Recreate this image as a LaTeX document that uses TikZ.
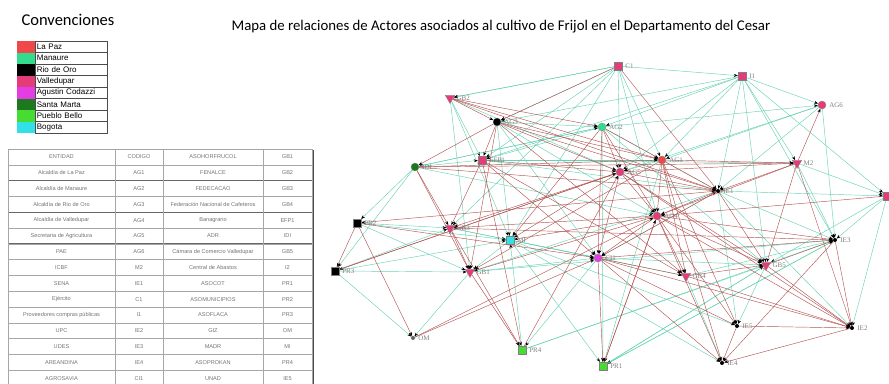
\documentclass[tikz,border=0pt]{standalone}
\usepackage{fontspec}
\setmainfont{Carlito}
\newfontfamily\legfont{Liberation Sans}
\newfontfamily\netfont{Liberation Serif}
\usepackage{xcolor}
\usetikzlibrary{positioning,shapes.geometric,arrows.meta}

\definecolor{lapaz}{RGB}{240,72,72}
\definecolor{manaure}{RGB}{50,220,140}
\definecolor{valledupar}{RGB}{228,60,120}
\definecolor{codazzi}{RGB}{230,60,230}
\definecolor{santamarta}{RGB}{30,120,30}
\definecolor{pueblobello}{RGB}{70,220,50}
\definecolor{bogota}{RGB}{50,225,230}
\definecolor{linkg}{RGB}{105,210,180}
\definecolor{linkr}{RGB}{180,85,85}

\pgfdeclarelayer{bg}
\pgfsetlayers{bg,main}

\begin{document}
\begin{tikzpicture}[x=1pt, y=-1pt, node distance = 0pt]
            \tikzstyle{swatch} = [rectangle, minimum width=18pt, minimum height=11.5pt, inner sep=0pt]
            \tikzstyle{legrow} = [rectangle, draw=black!70, minimum width=72pt, minimum height=11.5pt, inner sep=1.5pt, text width=69pt, align=left, font=\legfont\fontsize{8}{9}\selectfont]
            \tikzstyle{cell} = [inner sep=0pt, text=black!55, font=\legfont\fontsize{5.6}{6}\selectfont]
            \tikzstyle{tabline} = [black!35, line width=0.4pt]
            \tikzstyle{actor} = [circle, draw=black!50, line width=0.3pt, inner sep=0pt, minimum size=8pt]
            \tikzstyle{sq} = [rectangle, draw=black!50, line width=0.3pt, inner sep=0pt, minimum size=8pt]
            \tikzstyle{tri} = [regular polygon, regular polygon sides=3, shape border rotate=180, draw=black!50, line width=0.3pt, inner sep=0pt, minimum size=11pt]
            \tikzstyle{ie} = [circle, inner sep=0pt, minimum size=4pt]
            \tikzstyle{lbl} = [inner sep=3pt, text=black!50, font=\netfont\fontsize{7}{8}\selectfont]
            \tikzstyle{verde} = [linkg, line width=0.45pt, -{Stealth[length=4pt, width=3pt, color=black]}]
            \tikzstyle{rojo} = [linkr, line width=0.45pt, -{Stealth[length=4pt, width=3pt, color=black]}]

            \useasboundingbox (0,0) rectangle (889,383);

            % titulos
            \node (conv) at (68,20) {\fontsize{16.5}{18}\selectfont Convenciones};
            \node (titulo) at (501,27) {\fontsize{14.8}{17}\selectfont Mapa de relaciones de Actores asociados al cultivo de Frijol en el Departamento del Cesar};

            % convenciones
            \foreach \c/\t [count=\i] in {lapaz/La Paz, manaure/Manaure, black/Rio de Oro, valledupar/Valledupar, codazzi/Agustin Codazzi, santamarta/Santa Marta, pueblobello/Pueblo Bello, bogota/Bogota}
            {
                \node [swatch, fill=\c] (sw\i) at (26, 35.25+11.5*\i) {};
                \node [legrow, right = of sw\i] (lg\i) {\t};
            }

            % tabla de codigos
            \foreach \k in {0,...,15}
                \draw [tabline] (8, 149+15.8*\k) -- (312, 149+15.8*\k);
            \foreach \k in {2,4,6}
                \draw [black!60, line width=0.9pt] (8, 149+15.8*\k) -- (312, 149+15.8*\k);
            \foreach \xx in {8,115,163,263,312}
                \draw [tabline] (\xx,149) -- (\xx,390);
            \draw [black!70, line width=1.2pt] (313.5,150) -- (313.5,390);

            \foreach \ca/\cb/\cc/\cd [count=\r] in {ENTIDAD/CODIGO/ASOHORFRUCOL/GB1,
                Alcaldía de La Paz/AG1/FENALCE/GB2,
                Alcaldía de Manaure/AG2/FEDECACAO/GB3,
                Alcaldía de Rio de Oro/AG3/Federación Nacional de Cafeteros/GB4,
                Alcaldía de Valledupar/AG4/Banagrario/EFP1,
                Secretaria de Agricultura/AG5/ADR/IDI,
                PAE/AG6/Cámara de Comercio Valledupar/GB5,
                ICBF/M2/Central de Abastos/I2,
                SENA/IE1/ASOCOT/PR1,
                Ejército/C1/ASOMUNICIPIOS/PR2,
                Proveedores compras públicas/I1/ASOFLACA/PR3,
                UPC/IE2/GIZ/OM,
                UDES/IE3/MADR/MI,
                AREANDINA/IE4/ASOPROKAN/PR4,
                AGROSAVIA/CI1/UNAD/IE5}
            {
                \node [cell] (ta\r) at (61.5, 141.1+15.8*\r) {\ca};
                \node [cell] (tb\r) at (139, 141.1+15.8*\r) {\cb};
                \node [cell] (tc\r) at (213, 141.1+15.8*\r) {\cc};
                \node [cell] (td\r) at (287.5, 141.1+15.8*\r) {\cd};
            }

            % actores
            \foreach \n/\x/\y/\s/\c in {C1/618/66/sq/valledupar, I1/742/76/sq/valledupar,
                AG6/822/105/actor/valledupar, GB2/450/98/tri/valledupar, AG3/497/122/actor/black,
                AG2/602/127/actor/manaure, EFP1/482/160/sq/valledupar, IDI/415/167/actor/santamarta,
                AG1/662/160/actor/lapaz, AG5/620/172/actor/valledupar, M2/797/163/tri/valledupar,
                IE1/718/191/ie/black, AG4/657/216/actor/valledupar, PR2/357/223/sq/black,
                GB3/450/228/tri/valledupar, MI/510/240/sq/bogota, IE3/835/240/ie/black,
                CI1/598/258/actor/codazzi, GB5/766/265/tri/valledupar, GB4/686/276/tri/valledupar,
                GB1/470/272/tri/valledupar, PR3/335/271/sq/black, OM/413/338/ie/black!60,
                PR4/522/350/sq/pueblobello, PR1/603/366/sq/pueblobello, IE5/737/326/ie/black,
                IE2/852/328/ie/black, IE4/722/363/ie/black}
                \node [\s, fill=\c, label={[lbl]right:\n}] (\n) at (\x,\y) {};
            \node [sq, fill=valledupar] (RT) at (887,196) {};

            % relaciones
            \begin{pgfonlayer}{bg}
            \foreach \a/\b in {C1/I1, I1/AG2, I1/AG1, I1/AG5, I1/IE1, I1/M2, I1/RT, I1/GB5, I1/EFP1, I1/AG3, I1/IE3,
                I1/AG6, AG2/AG6, AG6/AG5, AG6/AG1, AG6/IE3, AG6/IE1, C1/AG3, C1/GB2, C1/EFP1, C1/AG5, C1/AG4, C1/AG1,
                C1/MI, C1/GB3, GB2/EFP1, GB2/GB1, GB2/MI, GB2/AG5, AG3/AG2, AG3/AG4, AG3/MI, AG3/CI1,
                AG2/EFP1, AG2/IDI, AG2/IE1, AG2/GB5, AG2/PR1, IDI/PR2, IDI/PR3, IDI/EFP1, IDI/AG4,
                EFP1/AG1, EFP1/M2, EFP1/IE1, AG1/AG5, AG1/PR1, M2/IE3, M2/RT, IE1/RT, IE1/IE3, IE1/IE2,
                IE1/IE5, RT/IE3, RT/IE2, RT/GB5, PR2/GB1, PR2/MI, PR2/GB3, GB3/MI, GB3/CI1, MI/CI1,
                MI/GB1, MI/PR1, MI/IE5, MI/GB4, MI/IE4, PR3/OM, PR3/GB1, PR3/GB3, PR3/MI, GB1/OM,
                GB1/CI1, GB1/IE1, GB1/IE3, CI1/GB5, CI1/PR4, GB4/IE3, GB4/IE4, GB5/IE5, GB5/PR1,
                IE3/PR1, PR4/IE3, PR4/GB5, PR1/IE3, PR1/GB5, IDI/AG2, PR4/MI, CI1/IE1, C1/GB2}
                \draw [verde] (\a) -- (\b);
            \foreach \a/\b in {M2/AG6, C1/IE1, GB2/AG3, GB2/AG2, GB2/AG1, GB2/IE1, AG3/EFP1, AG3/IDI,
                AG3/AG1, AG3/GB1, AG3/AG5, AG3/IE1, AG3/GB4, AG2/AG5, AG2/AG1, AG2/MI, AG2/AG4, AG2/CI1,
                IDI/AG1, IDI/M2, IDI/GB3, IDI/GB1, EFP1/GB3, EFP1/PR4, EFP1/AG5, EFP1/CI1, EFP1/GB4,
                AG1/M2, AG1/IE1, AG1/AG4, AG1/GB4, AG1/IE5, AG1/IE4, AG1/GB1, AG5/M2, AG5/IE1, AG5/AG4,
                AG5/CI1, AG5/MI, AG5/GB3, AG5/PR3, AG5/IE2, AG5/GB5, M2/IE1, M2/GB5, M2/AG4, M2/IE2,
                IE1/AG4, IE1/GB5, IE1/CI1, IE1/PR2, RT/AG4, AG4/GB4, AG4/CI1, AG4/MI, AG4/GB3, AG4/IE5,
                AG4/IE2, AG4/PR1, AG4/GB1, AG4/IE4, AG4/IE3, AG4/GB5, PR2/PR3, PR2/OM, PR2/CI1,
                GB3/GB1, GB3/PR4, GB3/IE3, PR3/AG5, GB1/PR4, OM/AG4, OM/CI1, CI1/GB4, CI1/PR1, CI1/IE5,
                CI1/IE2, CI1/IE3, CI1/IE4, GB4/GB5, GB4/IE2, GB5/IE2, GB5/IE3, IE3/IE2, IE3/IE4,
                IE5/IE2, IE5/IE4, IE2/IE4, PR4/AG5, PR1/AG4, IDI/IE1, C1/AG3}
                \draw [rojo] (\a) -- (\b);
            \end{pgfonlayer}
        \end{tikzpicture}
\end{document}
